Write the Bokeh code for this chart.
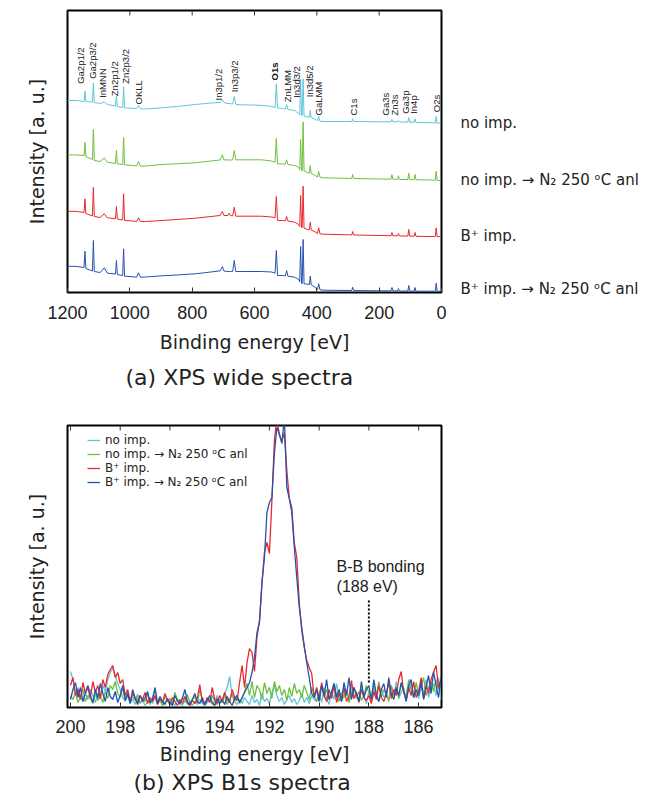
from math import pi
from bokeh.plotting import figure
from bokeh.layouts import column
from bokeh.models import Range1d, FixedTicker, LinearAxis, Label, Legend, LegendItem, Title
from bokeh.core.properties import value
from bokeh.embed import file_html
from bokeh.resources import INLINE

# ---------------- (a) XPS wide spectra ----------------
wide_energy = [1200, 1170, 1147, 1144, 1141, 1120, 1117, 1114, 1095, 1082,
               1072, 1046, 1043, 1040, 1023, 1020, 1017, 990, 978, 972,
               966, 950, 897, 850, 790, 740, 710, 703, 698, 685,
               681, 677, 670, 665, 660, 640, 578, 545, 534, 530,
               526, 510, 501, 497, 493, 471, 458, 455, 452, 449,
               447, 444, 441, 430, 424, 421, 418, 405, 398, 394,
               390, 380, 300, 288, 285, 282, 200, 162, 159, 156,
               141, 138, 135, 108, 105, 102, 88, 85, 82, 30,
               20, 17, 14, 3]

wide_no_imp = [192, 192, 191, 201.3, 191, 190.5, 209.3, 190, 189, 190.5,
               188, 186.5, 196.3, 186, 185, 206, 184.7, 184.2, 184, 187,
               183.7, 183.5, 184.7, 186, 188, 189.5, 190, 192.5, 190, 189,
               189, 188.8, 188.5, 196, 188, 187.7, 187.2, 186, 185, 208.7,
               184.7, 184, 183.5, 187.7, 183, 182, 179, 177.5, 213, 177,
               177, 213.7, 176.5, 175.5, 175.3, 182, 175, 173, 172, 176,
               171.3, 171, 171, 171, 173.7, 171, 170.7, 170.7, 173, 170.7,
               170.7, 172, 170.5, 170.5, 175, 170.2, 170.2, 173.7, 170, 169.7,
               169.5, 176, 169.3, 169.3]

wide_no_imp_anl = [137.7, 137.5, 137, 150.3, 136, 133, 163, 132, 131, 134.7,
                   130.3, 129, 142, 128.7, 128, 155, 127.7, 127, 126.5, 131,
                   126.3, 126.5, 128, 128.7, 129.7, 131.5, 132.5, 137.7, 132.7, 132.5,
                   132.5, 132.5, 132.5, 142, 132.7, 132.7, 132.7, 131.5, 130.3, 154,
                   128.7, 128.5, 128.5, 132.7, 128, 127, 125, 123, 153, 122,
                   122, 170.5, 121.5, 120, 119.3, 127, 119, 117, 115.5, 121,
                   115.3, 114.7, 114.2, 114, 118, 114, 113.5, 113.3, 117.7, 113.3,
                   113.2, 116.7, 113, 113, 119.3, 112.8, 112.8, 118, 112.7, 112.5,
                   112.3, 121.3, 112, 112]

wide_b_imp = [81.3, 81, 80, 93.7, 79, 76.5, 105.3, 76, 75, 78.7,
              74.7, 73.7, 86, 73.5, 72.5, 98.7, 72, 71.5, 71, 74.7,
              71, 71, 72, 73, 74.3, 76, 77, 81, 77, 77,
              79.3, 77, 76.5, 85.3, 76.3, 76.3, 76.3, 75.5, 74.7, 96,
              72, 72, 71.7, 76, 71.5, 70.3, 68, 66, 97, 65,
              65, 106.3, 64.3, 63, 62.7, 70.3, 62.5, 60.5, 59, 64.7,
              58.7, 58.3, 57.7, 57.5, 61, 57.5, 57, 56.8, 60, 56.8,
              56.7, 59, 56.5, 56.5, 63, 56.3, 56.3, 60, 56.2, 56,
              56, 64.7, 55.8, 55.8]

wide_b_imp_anl = [26.3, 26, 25, 41.3, 24, 21.5, 52, 21, 20, 24.7,
                  19.3, 18.5, 32, 18, 17, 43.7, 16.3, 15.7, 15.3, 19.7,
                  15.3, 15.5, 16.7, 17.5, 18.7, 20.5, 21.7, 26, 21.5, 21,
                  21, 21, 21, 32, 21, 21, 21, 20.5, 19.3, 42,
                  17, 17, 16.7, 22, 16.3, 15.3, 13, 10.5, 46, 9,
                  9, 53, 8.7, 8.3, 8, 16.3, 7.7, 5, 3, 8.7,
                  2.7, 2.3, 2, 2, 5.3, 2, 1.7, 1.7, 5, 1.7,
                  1.6, 4, 1.5, 1.5, 7, 1.4, 1.4, 5, 1.3, 1.3,
                  1.3, 9.3, 1.2, 1.2]

peak_names = ["Ga2p1/2", "Ga2p3/2", "InMNN", "Zn2p1/2", "Zn2p3/2", "OKLL",
              "In3p1/2", "In3p3/2", "ZnLMM", "In3d3/2", "In3d5/2",
              "GaLMM", "C1s", "Ga3s", "Zn3s", "Ga3p", "In4p", "O2s"]
peak_label_energy = [1157, 1120, 1088, 1049, 1014, 973,
                     716, 663, 493, 464, 424,
                     395, 283, 179, 152, 115, 89, 16]
peak_label_height = [208.7, 213.7, 194.7, 196.3, 208.7, 188,
                     192, 200.3, 190.3, 194.7, 195.3,
                     177, 177, 177, 177, 178.7, 178.7, 180.3]
o1s_name = ["O1s"]
o1s_label_energy = [535]
o1s_label_height = [212]

series_names = ["no imp.", "no imp. \u2192 N\u2082 250 \u1d52C anl",
                "B\u207a imp.", "B\u207a imp. \u2192 N\u2082 250 \u1d52C anl"]
series_label_height = [170, 113, 57, 4]
wide_ticks = [0, 200, 400, 600, 800, 1000, 1200]

colors = ["#5ec6d6", "#6fbf3e", "#e8282c", "#2652b0"]

# ---------------- (b) XPS B1s spectra ----------------
b1s_energy = [round(200.0 - 0.1 * i, 1) for i in range(150)]

b1s_no_imp = [36, 28, 15, 20, 10, 6, 14, 8, 18, 12,
              5, 14, 9, 22, 16, 28, 35, 39, 32, 24,
              18, 10, 6, 12, 4, 8, 3, 10, 5, 7,
              2, 6, 9, 4, 11, 3, 7, 2, 5, 8,
              3, 6, 2, 9, 4, 2, 7, 3, 5, 2,
              6, 3, 8, 4, 2, 5, 9, 3, 6, 12,
              5, 9, 14, 20, 31, 12, 6, 3, 8, 4,
              10, 6, 3, 12, 5, 8, 2, 14, 6, 9,
              4, 15, 22, 12, 6, 10, 3, 8, 12, 5,
              9, 3, 7, 14, 5, 10, 4, 12, 8, 6,
              14, 5, 20, 9, 3, 16, 8, 24, 10, 6,
              12, 18, 5, 22, 9, 14, 6, 20, 11, 4,
              16, 9, 25, 12, 6, 19, 10, 14, 8, 22,
              12, 26, 9, 15, 20, 7, 18, 24, 11, 16,
              9, 20, 14, 28, 10, 18, 24, 12, 30, 8]

b1s_no_imp_anl = [12, 8, 15, 5, 10, 18, 6, 12, 9, 4,
                  14, 7, 11, 5, 16, 9, 22, 18, 26, 14,
                  10, 20, 8, 15, 5, 11, 7, 13, 4, 9,
                  6, 14, 3, 10, 18, 5, 8, 2, 12, 6,
                  9, 4, 15, 7, 3, 10, 6, 13, 5, 8,
                  11, 4, 18, 7, 3, 9, 5, 12, 6, 3,
                  8, 5, 12, 3, 7, 14, 6, 10, 4, 9,
                  16, 24, 12, 26, 10, 22, 18, 8, 25, 14,
                  20, 9, 26, 16, 22, 12, 18, 7, 20, 11,
                  24, 14, 18, 10, 22, 15, 8, 20, 12, 6,
                  14, 22, 10, 18, 8, 16, 24, 12, 6, 15,
                  10, 18, 5, 14, 20, 9, 16, 7, 12, 22,
                  15, 8, 20, 12, 26, 10, 18, 14, 6, 22,
                  12, 20, 9, 24, 16, 11, 28, 18, 10, 25,
                  14, 22, 30, 12, 20, 26, 16, 28, 18, 24]

b1s_b_imp = [22, 30, 12, 18, 8, 25, 14, 20, 10, 26,
             15, 22, 9, 28, 20, 33, 38, 42, 30, 35,
             24, 28, 12, 18, 6, 14, 10, 5, 12, 8,
             15, 4, 10, 6, 12, 3, 9, 5, 14, 7,
             3, 10, 6, 2, 8, 4, 11, 5, 2, 7,
             4, 9, 23, 6, 3, 10, 5, 20, 8, 4,
             12, 6, 15, 8, 5, 18, 10, 7, 25, 42,
             20, 45, 59, 55, 36, 70, 87, 124, 155, 165,
             154, 207, 267, 290, 272, 266, 275, 237, 209, 200,
             165, 150, 105, 77, 60, 47, 40, 34, 10, 20,
             8, 25, 12, 6, 18, 9, 22, 5, 14, 8,
             20, 6, 11, 27, 9, 15, 5, 18, 10, 7,
             12, 4, 16, 8, 22, 10, 6, 14, 25, 9,
             18, 12, 28, 36, 15, 8, 20, 12, 26, 10,
             16, 30, 9, 22, 14, 28, 35, 42, 20, 28]

b1s_b_imp_anl = [8, 18, 25, 10, 20, 6, 15, 22, 12, 5,
                 18, 9, 24, 14, 6, 20, 11, 8, 16, 5,
                 12, 22, 7, 14, 4, 18, 9, 3, 12, 6,
                 10, 16, 5, 8, 20, 4, 11, 6, 3, 9,
                 5, 2, 12, 7, 4, 9, 18, 6, 3, 8,
                 14, 6, 4, 10, 3, 7, 12, 5, 2, 9,
                 4, 8, 3, 11, 6, 2, 9, 12, 5, 10,
                 15, 20, 25, 35, 50, 75, 85, 125, 150, 195,
                 205, 210, 254, 280, 274, 264, 290, 220, 209, 195,
                 160, 130, 100, 80, 62, 45, 30, 14, 10, 18,
                 6, 22, 12, 28, 8, 15, 24, 10, 18, 6,
                 25, 12, 30, 8, 20, 14, 6, 26, 10, 18,
                 22, 8, 28, 12, 6, 18, 24, 10, 30, 14,
                 8, 20, 12, 25, 16, 6, 22, 28, 10, 18,
                 12, 26, 8, 20, 32, 14, 36, 22, 10, 30]

b1s_ticks = [186, 188, 190, 192, 194, 196, 198, 200]
bb_energy = [188.0]
bb_line_low = [25]
bb_line_high = [109]
bb_text = ["B-B bonding", "(188 eV)"]

TICK_FONT = "Liberation Sans"
LABEL_FONT = "DejaVu Sans"


def style(p, ticks, y_top, tick_std, lab_std):
    p.grid.visible = False
    p.outline_line_color = "black"
    p.outline_line_width = 2
    p.background_fill_color = "white"
    p.border_fill_color = "white"
    xa = p.xaxis[0]
    xa.ticker = FixedTicker(ticks=ticks)
    xa.major_tick_in = 5
    xa.major_tick_out = 0
    xa.minor_tick_line_color = None
    xa.axis_line_color = None
    xa.major_tick_line_color = "#333333"
    xa.major_label_text_font = TICK_FONT
    xa.major_label_text_font_size = "18px"
    xa.major_label_text_color = "#222222"
    xa.major_label_standoff = tick_std
    xa.axis_label = "Binding energy [eV]"
    xa.axis_label_text_font = LABEL_FONT
    xa.axis_label_text_font_size = "19px"
    xa.axis_label_text_font_style = "normal"
    xa.axis_label_text_color = "#222222"
    xa.axis_label_standoff = lab_std
    # inward tick marks on the top edge, at the same tick values
    p.segment(x0=ticks, y0=[y_top - 5] * len(ticks), x1=ticks, y1=[y_top] * len(ticks),
              line_color="#333333", line_width=1)
    ya = p.yaxis[0]
    ya.ticker = FixedTicker(ticks=[])
    ya.major_tick_line_color = None
    ya.minor_tick_line_color = None
    ya.axis_line_color = None
    ya.axis_label = "Intensity [a. u.]"
    ya.axis_label_text_font = LABEL_FONT
    ya.axis_label_text_font_size = "19px"
    ya.axis_label_text_font_style = "normal"
    ya.axis_label_text_color = "#222222"
    ya.axis_label_standoff = 20


def caption(p, text, offset, standoff):
    t = Title(text=text, align="left", offset=offset, standoff=standoff,
              text_font=LABEL_FONT, text_font_size="22px", text_font_style="normal",
              text_color="#222222")
    p.add_layout(t, "below")


# ---- top figure ----
p1 = figure(width=664, height=400, x_range=Range1d(1200, 0), y_range=Range1d(0, 282),
            output_backend="svg", toolbar_location=None,
            min_border_left=65, min_border_right=223, min_border_top=10, min_border_bottom=108)
style(p1, wide_ticks, 282, 13, 9)

for ys, c in zip([wide_no_imp, wide_no_imp_anl, wide_b_imp, wide_b_imp_anl], colors):
    p1.line(wide_energy, ys, line_color=c, line_width=1)

p1.text(x=peak_label_energy, y=peak_label_height, text=peak_names, angle=pi / 2,
        text_align="left", text_baseline="middle", text_font=value(TICK_FONT),
        text_font_size="9.5px", text_color="#222222")
p1.text(x=o1s_label_energy, y=o1s_label_height, text=o1s_name, angle=pi / 2,
        text_align="left", text_baseline="middle", text_font=value(TICK_FONT),
        text_font_size="9.5px", text_font_style="bold", text_color="#111111")

# sample names on the right, one per spectrum
right = LinearAxis(ticker=FixedTicker(ticks=series_label_height),
                   major_label_overrides={h: n for h, n in zip(series_label_height, series_names)},
                   major_tick_line_color=None, minor_tick_line_color=None, axis_line_color=None,
                   major_label_standoff=13, major_label_text_font=LABEL_FONT,
                   major_label_text_font_size="15px", major_label_text_color="#222222")
p1.add_layout(right, "right")

caption(p1, "(a) XPS wide spectra", 58, 14)

# ---- bottom figure ----
p2 = figure(width=664, height=401, x_range=Range1d(200.12, 185.08), y_range=Range1d(0, 282),
            output_backend="svg", toolbar_location=None,
            min_border_left=67, min_border_right=221, min_border_top=25, min_border_bottom=94)
style(p2, b1s_ticks, 282, 12, 7)

items = []
for ys, c, name in zip([b1s_no_imp, b1s_no_imp_anl, b1s_b_imp, b1s_b_imp_anl], colors, series_names):
    r = p2.line(b1s_energy, ys, line_color=c, line_width=1.3)
    items.append(LegendItem(label=name, renderers=[r]))

legend = Legend(items=items, location=(20, 218), padding=0, margin=0, spacing=0,
                label_height=14, glyph_height=14, glyph_width=13, label_standoff=5,
                label_text_font=LABEL_FONT, label_text_font_size="12px",
                label_text_color="#222222", border_line_color=None,
                background_fill_alpha=0)
p2.add_layout(legend)

p2.segment(x0=bb_energy, y0=bb_line_low, x1=bb_energy, y1=bb_line_high,
           line_color="black", line_width=2, line_dash="2 2")
p2.add_layout(Label(x=189.3, y=141, text=bb_text[0], text_font=TICK_FONT, text_font_size="16px",
                    text_baseline="middle", text_align="left", text_color="#222222"))
p2.add_layout(Label(x=189.3, y=121, text=bb_text[1], text_font=TICK_FONT, text_font_size="16px",
                    text_baseline="middle", text_align="left", text_color="#222222"))

caption(p2, "(b) XPS B1s spectra", 66, 1)

layout = column(p1, p2, spacing=0)
open("out.html", "w").write(file_html(layout, INLINE))
